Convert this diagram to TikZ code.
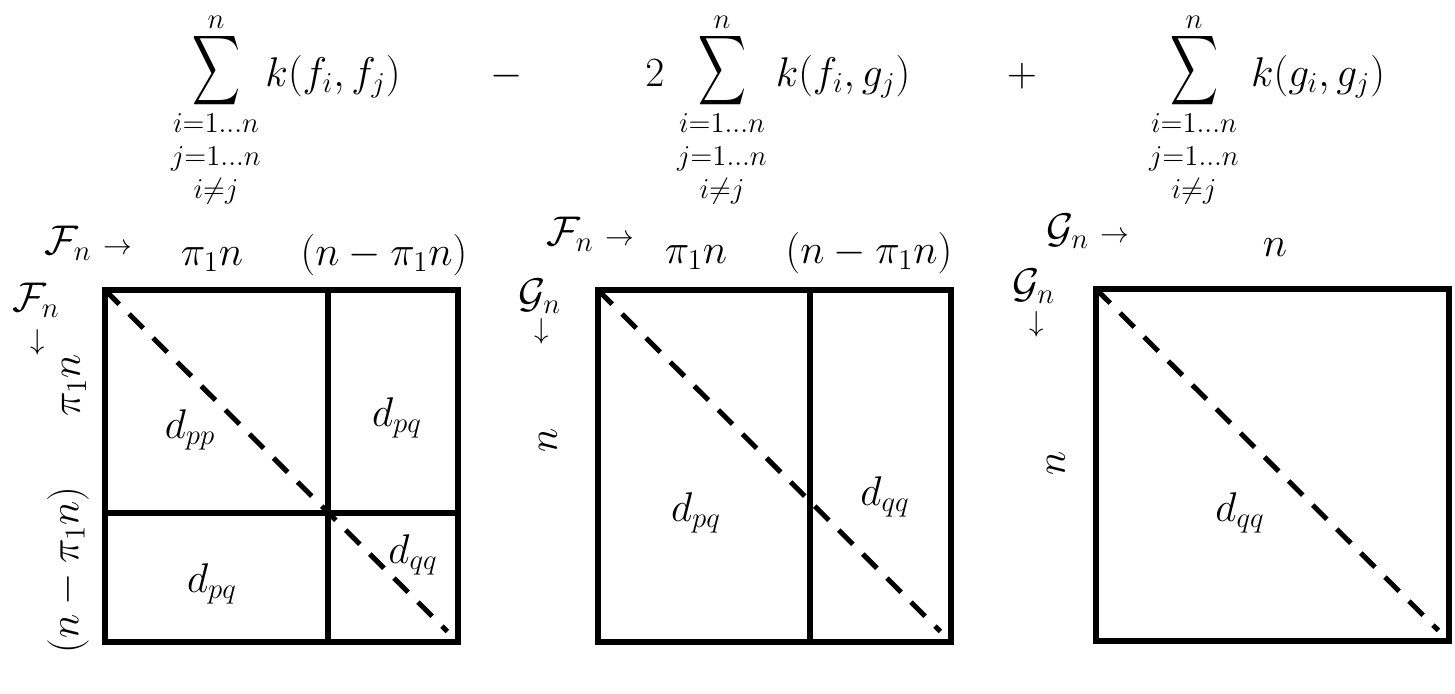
\documentclass[tikz,border=0pt]{standalone}
\usepackage{amssymb}
\usepackage{mathtools}
\usepackage{tikz}
\usetikzlibrary{
    calc,
    positioning
}
\newcommand{\bigsig}{\resizebox*{24pt}{39pt}{$\displaystyle\sum$}}
\newcommand{\limset}{$i{=}1{.}{.}{.}n$\\[3pt]$j{=}1{.}{.}{.}n$\\[3pt]$i{\neq}j$}

\begin{document}
\begin{tikzpicture}[x=0.5pt, y=-0.5pt,
    every node/.style={inner sep=0pt, font=\fontsize{20}{24}\selectfont},
    lim/.style={font=\fontsize{14}{13.5}\selectfont, align=center, anchor=north},
    sup/.style={font=\fontsize{14}{16}\selectfont, anchor=base},
    frame/.style={line width=3.2pt},
    split/.style={line width=2.6pt},
    diag/.style={line width=2.5pt, dash pattern=on 10pt off 7pt}]
    \useasboundingbox (0,0) rectangle (1455,693);
    % the three sums
    \node (s1) at (216,71) {\bigsig};
    \node[sup] (s1n) at (216,28) {$n$};
    \node[lim] (s1l) at (216,113) {\limset};
    \node[anchor=base] (k1) at (333,86) {$k(f_i,f_j)$};
    \node[anchor=base] (minus) at (507,86) {$-$};
    \node[anchor=base] (two) at (655,86) {$2$};
    \node (s2) at (722,71) {\bigsig};
    \node[sup] (s2n) at (722,28) {$n$};
    \node[lim] (s2l) at (722,113) {\limset};
    \node[anchor=base] (k2) at (843,86) {$k(f_i,g_j)$};
    \node[anchor=base] (plus) at (1022,86) {$+$};
    \node (s3) at (1194,71) {\bigsig};
    \node[sup] (s3n) at (1194,28) {$n$};
    \node[lim] (s3l) at (1194,113) {\limset};
    \node[anchor=base] (k3) at (1318,86) {$k(g_i,g_j)$};
    % first matrix
    \coordinate (a1) at (105,290);
    \coordinate (b1) at (458,642);
    \draw[frame] (a1) rectangle (b1);
    \draw[split] (328,290) -- (328,642);
    \draw[split] (105,513) -- (458,513);
    \draw[diag] (a1) -- ($(a1)!0.97!(b1)$);
    \node[anchor=base] (fx1) at (88,254) {$\mathcal{F}_n \mathrel{\scriptstyle\rightarrow}$};
    \node[anchor=base] (col11) at (212,265) {$\pi_1 n$};
    \node[anchor=base] (col12) at (384,265) {$(n-\pi_1 n)$};
    \node (fy1) at (36,300) {$\mathcal{F}_n$};
    \node (dn1) at (38,342) {$\scriptstyle\downarrow$};
    \node[rotate=90] (row11) at (74,385) {$\pi_1 n$};
    \node[rotate=90] (row12) at (68,570) {$(n-\pi_1 n)$};
    \node (pp1) at (190,430) {$d_{pp}$};
    \node (pq1) at (397,418) {$d_{pq}$};
    \node (pq2) at (212,584) {$d_{pq}$};
    \node (qq1) at (413,555) {$d_{qq}$};
    % second matrix
    \coordinate (a2) at (598,290);
    \coordinate (b2) at (951,642);
    \draw[frame] (a2) rectangle (b2);
    \draw[split] (810,290) -- (810,642);
    \draw[diag] (a2) -- ($(a2)!0.97!(b2)$);
    \node[anchor=base] (fx2) at (590,245) {$\mathcal{F}_n \mathrel{\scriptstyle\rightarrow}$};
    \node[anchor=base] (col21) at (696,263) {$\pi_1 n$};
    \node[anchor=base] (col22) at (869,263) {$(n-\pi_1 n)$};
    \node (gy2) at (540,296) {$\mathcal{G}_n$};
    \node (dn2) at (542,331) {$\scriptstyle\downarrow$};
    \node[rotate=90] (row21) at (548,440) {$n$};
    \node (pq3) at (696,513) {$d_{pq}$};
    \node (qq2) at (885,497) {$d_{qq}$};
    % third matrix
    \coordinate (a3) at (1096,289);
    \coordinate (b3) at (1449,641);
    \draw[frame] (a3) rectangle (b3);
    \draw[diag] (a3) -- ($(a3)!0.97!(b3)$);
    \node[anchor=base] (gx3) at (1088,242) {$\mathcal{G}_n \mathrel{\scriptstyle\rightarrow}$};
    \node[anchor=base] (col31) at (1275,256) {$n$};
    \node (gy3) at (1034,286) {$\mathcal{G}_n$};
    \node (dn3) at (1037,324) {$\scriptstyle\downarrow$};
    \node[rotate=90] (row31) at (1056,463) {$n$};
    \node (qq3) at (1240,513) {$d_{qq}$};
\end{tikzpicture}
\end{document}
